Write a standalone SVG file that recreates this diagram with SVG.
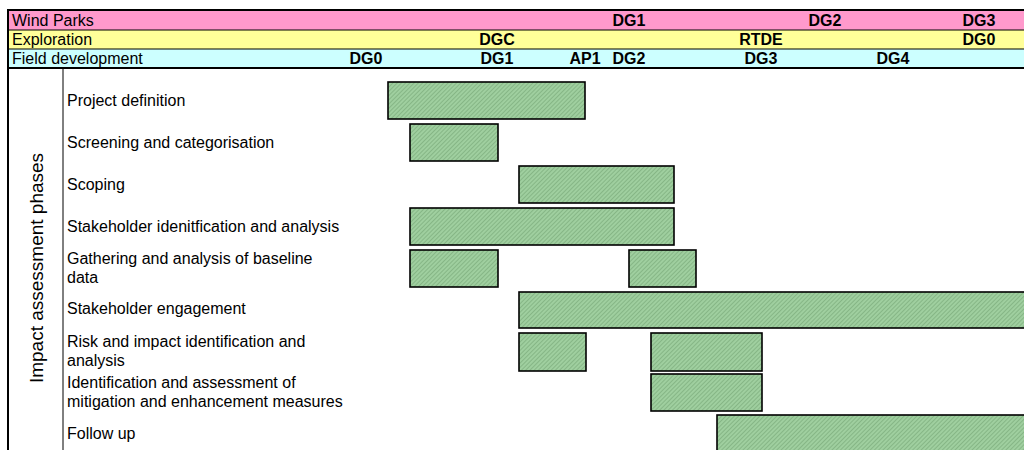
<svg xmlns="http://www.w3.org/2000/svg" width="1024" height="450" viewBox="0 0 1024 450">
<defs>
<pattern id="hatch" width="3" height="3" patternUnits="userSpaceOnUse" patternTransform="rotate(45)">
<rect width="3" height="3" fill="#9fcf9f"/>
<rect width="1" height="3" fill="#86b686"/>
</pattern>
</defs>
<style>
.lbl{font-family:"Liberation Sans",Arial,sans-serif;font-size:16px;fill:#000}
.ms{font-family:"Liberation Sans",Arial,sans-serif;font-size:16px;font-weight:bold;fill:#000;text-anchor:middle}
.bar{fill:url(#hatch);stroke:#000;stroke-width:1.6}
.thin{stroke:#000;stroke-width:1}
.thick{stroke:#000;stroke-width:2}
</style>
<rect width="1024" height="450" fill="#fff"/>
<g id="header">
<rect x="8" y="10" width="1020" height="20" fill="#ff99cc"/>
<rect x="8" y="30" width="1020" height="19" fill="#ffff99"/>
<rect x="8" y="49" width="1020" height="19" fill="#ccffff"/>
<line class="thick" x1="7" y1="10" x2="1024" y2="10"/>
<line class="thin" x1="8" y1="30" x2="1024" y2="30"/>
<line class="thin" x1="8" y1="49" x2="1024" y2="49"/>
<line class="thick" x1="7" y1="68" x2="1024" y2="68"/>
<line class="thick" x1="8" y1="9" x2="8" y2="450"/>
<line class="thin" x1="63" y1="68" x2="63" y2="450"/>
<text class="lbl" x="12" y="26">Wind Parks</text>
<text class="lbl" x="12" y="45">Exploration</text>
<text class="lbl" x="12" y="64">Field development</text>
<text class="ms" x="629" y="26">DG1</text>
<text class="ms" x="825" y="26">DG2</text>
<text class="ms" x="979" y="26">DG3</text>
<text class="ms" x="497" y="45">DGC</text>
<text class="ms" x="761" y="45">RTDE</text>
<text class="ms" x="979" y="45">DG0</text>
<text class="ms" x="366" y="64">DG0</text>
<text class="ms" x="497" y="64">DG1</text>
<text class="ms" x="585" y="64">AP1</text>
<text class="ms" x="629" y="64">DG2</text>
<text class="ms" x="761" y="64">DG3</text>
<text class="ms" x="893" y="64">DG4</text>
</g>
<g id="axis-title">
<text class="lbl" style="font-size:19px" text-anchor="middle" transform="translate(43,268) rotate(-90)">Impact assessment phases</text>
</g>
<g id="project-definition">
<text class="lbl" x="67" y="106">Project definition</text>
<rect class="bar" x="388" y="82" width="197" height="37"/>
</g>
<g id="screening">
<text class="lbl" x="67" y="148">Screening and categorisation</text>
<rect class="bar" x="410" y="124" width="88" height="37"/>
</g>
<g id="scoping">
<text class="lbl" x="67" y="190">Scoping</text>
<rect class="bar" x="519" y="166" width="155" height="37"/>
</g>
<g id="stakeholder-identification">
<text class="lbl" x="67" y="232">Stakeholder idenitfication and analysis</text>
<rect class="bar" x="410" y="208" width="264" height="37"/>
</g>
<g id="baseline-data">
<text class="lbl" x="67" y="264">Gathering and analysis of baseline</text>
<text class="lbl" x="67" y="283">data</text>
<rect class="bar" x="410" y="250" width="88" height="37"/>
<rect class="bar" x="629" y="250" width="67" height="37"/>
</g>
<g id="stakeholder-engagement">
<text class="lbl" x="67" y="314">Stakeholder engagement</text>
<rect class="bar" x="519" y="292" width="510" height="36"/>
</g>
<g id="risk-impact">
<text class="lbl" x="67" y="347">Risk and impact identification and</text>
<text class="lbl" x="67" y="366">analysis</text>
<rect class="bar" x="519" y="333" width="67" height="38"/>
<rect class="bar" x="651" y="333" width="111" height="38"/>
</g>
<g id="mitigation">
<text class="lbl" x="67" y="388">Identification and assessment of</text>
<text class="lbl" x="67" y="407">mitigation and enhancement measures</text>
<rect class="bar" x="651" y="374" width="111" height="37"/>
</g>
<g id="follow-up">
<text class="lbl" x="67" y="439">Follow up</text>
<rect class="bar" x="717" y="415" width="312" height="40"/>
</g>
<g id="connectors"/>
</svg>
